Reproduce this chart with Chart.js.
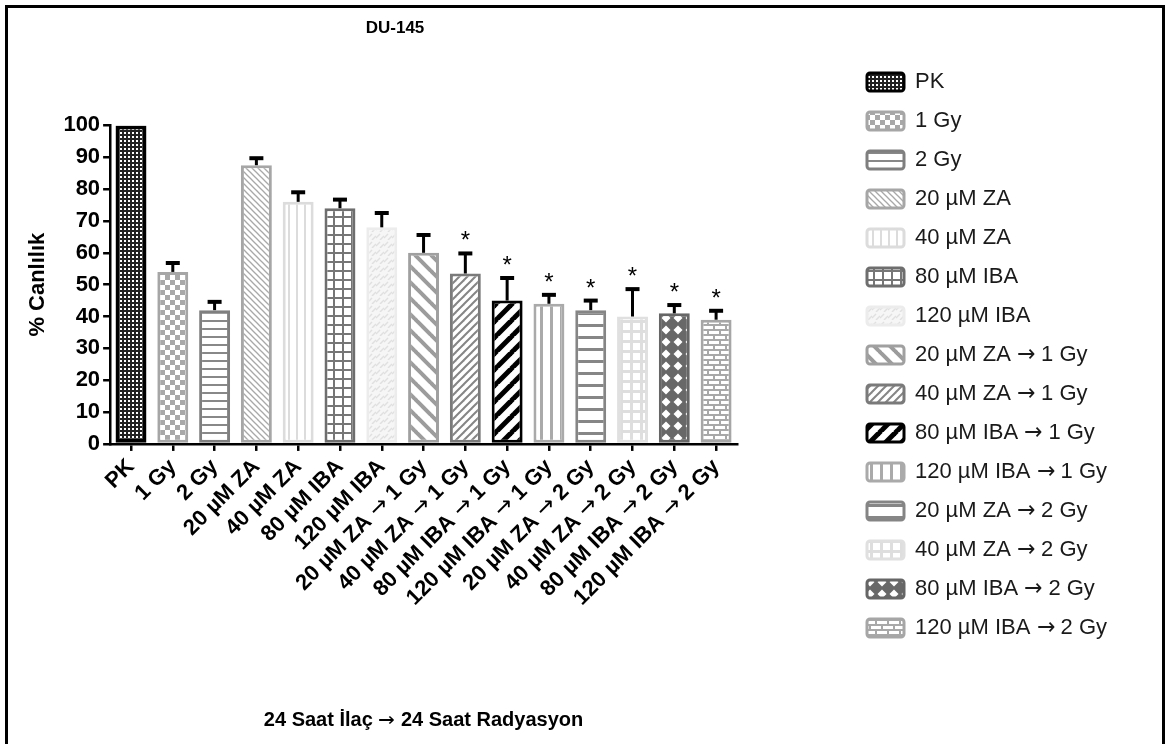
<!DOCTYPE html>
<html>
<head>
<meta charset="utf-8">
<title>DU-145</title>
<script src="https://cdn.jsdelivr.net/npm/chart.js@4.4.1/dist/chart.umd.min.js"></script>
<style>
  @font-face { font-family: 'ArrowSym'; src: local('DejaVu Sans'); unicode-range: U+2192; font-weight: 100 900; }
  html, body { margin: 0; padding: 0; background: #fff; overflow: hidden; }
  #wrap { position: relative; width: 1165px; height: 744px; }
  #frame { position: absolute; left: 5px; top: 5px; right: 0; bottom: -10px; border: 3px solid #000; border-bottom: none; pointer-events: none; }
  #chart { position: absolute; left: 0; top: 0; }
</style>
</head>
<body>
<div id="wrap">
  <canvas id="chart" width="1165" height="744"></canvas>
  <div id="frame"></div>
</div>
<script>
// groups, mean % viability, error (upper bar only) and significance marks
const groups = [
  'PK', '1 Gy', '2 Gy', '20 µM ZA', '40 µM ZA', '80 µM IBA', '120 µM IBA',
  '20 µM ZA → 1 Gy', '40 µM ZA → 1 Gy', '80 µM IBA → 1 Gy', '120 µM IBA → 1 Gy',
  '20 µM ZA → 2 Gy', '40 µM ZA → 2 Gy', '80 µM IBA → 2 Gy', '120 µM IBA → 2 Gy'
];
const viability = [100, 54, 42, 87.5, 76, 74, 68, 60, 53.5, 45, 44, 42, 40, 41, 39];
const errUp = [0, 2.8, 2.6, 2.2, 3, 2.7, 4.5, 5.6, 6.3, 7.1, 2.8, 3, 8.6, 2.6, 2.8];
const significant = [false, false, false, false, false, false, false, false, true, true, true, true, true, true, true];

const yMin = 0;
const yMax = 100;
const yStep = 10;

const titleText = 'DU-145';
const yTitle = '% Canlılık';
const xTitle = '24 Saat İlaç → 24 Saat Radyasyon';

// arrows come from DejaVu (longer, like the original), the rest is Arial
const FONT = 'ArrowSym, Arial, "Liberation Sans", sans-serif';

const canvas = document.getElementById('chart');
const mainCtx = canvas.getContext('2d');

// small tiles used as bar fills
function tile(w, h, paint) {
  const c = document.createElement('canvas');
  c.width = w;
  c.height = h;
  const g = c.getContext('2d');
  paint(g, w, h);
  return mainCtx.createPattern(c, 'repeat');
}

function hatch(g, s, color, width, dir) {
  g.fillStyle = '#fff';
  g.fillRect(0, 0, s, s);
  g.strokeStyle = color;
  g.lineWidth = width;
  [-s, 0, s].forEach(o => {
    g.beginPath();
    if (dir === 'back') {
      g.moveTo(o - 1, -1);
      g.lineTo(o + s + 1, s + 1);
    } else {
      g.moveTo(o - 1, s + 1);
      g.lineTo(o + s + 1, -1);
    }
    g.stroke();
  });
}

const fills = [
  tile(4, 4, g => { g.fillStyle = '#222'; g.fillRect(0, 0, 4, 4); g.fillStyle = '#fff'; g.fillRect(0, 0, 2, 2); }),
  tile(10, 10, g => { g.fillStyle = '#fff'; g.fillRect(0, 0, 10, 10); g.fillStyle = '#a8a8a8'; g.fillRect(0, 0, 5, 5); g.fillRect(5, 5, 5, 5); }),
  tile(8, 8, g => { g.fillStyle = '#fff'; g.fillRect(0, 0, 8, 8); g.fillStyle = '#888'; g.fillRect(0, 0, 8, 2); }),
  tile(6, 6, g => hatch(g, 6, '#a8a8a8', 1.3, 'back')),
  tile(8, 8, g => { g.fillStyle = '#fff'; g.fillRect(0, 0, 8, 8); g.fillStyle = '#dcdcdc'; g.fillRect(0, 0, 2, 8); }),
  tile(9, 9, g => { g.fillStyle = '#fff'; g.fillRect(0, 0, 9, 9); g.fillStyle = '#767676'; g.fillRect(0, 0, 9, 2); g.fillRect(0, 0, 2, 9); }),
  tile(8, 8, g => { g.fillStyle = '#f6f6f6'; g.fillRect(0, 0, 8, 8); g.strokeStyle = '#e0e0e0'; g.lineWidth = 1.5; g.beginPath(); g.moveTo(0, 6); g.lineTo(4, 2); g.moveTo(4, 8); g.lineTo(8, 4); g.stroke(); }),
  tile(16, 16, g => hatch(g, 16, '#9c9c9c', 4, 'back')),
  tile(8, 8, g => hatch(g, 8, '#858585', 2, 'fwd')),
  tile(16, 16, g => hatch(g, 16, '#000', 5, 'fwd')),
  tile(10, 10, g => { g.fillStyle = '#fff'; g.fillRect(0, 0, 10, 10); g.fillStyle = '#aaa'; g.fillRect(0, 0, 3, 10); }),
  tile(12, 12, g => { g.fillStyle = '#fff'; g.fillRect(0, 0, 12, 12); g.fillStyle = '#868686'; g.fillRect(0, 0, 12, 3); }),
  tile(10, 10, g => { g.fillStyle = '#dedede'; g.fillRect(0, 0, 10, 10); g.fillStyle = '#fff'; g.fillRect(3, 3, 7, 7); }),
  tile(12, 12, g => { g.fillStyle = '#686868'; g.fillRect(0, 0, 12, 12); g.fillStyle = '#fff'; g.beginPath(); g.moveTo(6, 1.5); g.lineTo(10.5, 6); g.lineTo(6, 10.5); g.lineTo(1.5, 6); g.closePath(); g.fill(); }),
  tile(12, 10, g => { g.fillStyle = '#a8a8a8'; g.fillRect(0, 0, 12, 10); g.fillStyle = '#fff'; g.fillRect(1, 1, 10, 3); g.fillRect(7, 6, 10, 3); g.fillRect(-5, 6, 10, 3); })
];
const edges = ['#000', '#a6a6a6', '#7f7f7f', '#a6a6a6', '#dcdcdc', '#6e6e6e', '#ececec', '#a0a0a0',
  '#7a7a7a', '#000', '#aaaaaa', '#858585', '#e0e0e0', '#666666', '#a6a6a6'];
const edgeWidths = [4, 3, 3, 3, 3, 3, 3, 3, 3, 3, 3, 3, 3, 3, 3];

// upward error bars with a cap, plus the "*" marks
const errorBars = {
  id: 'errorBars',
  afterDatasetsDraw(chart) {
    const ctx = chart.ctx;
    const y = chart.scales.y;
    const bars = chart.getDatasetMeta(0).data;
    ctx.save();
    ctx.strokeStyle = '#000';
    ctx.fillStyle = '#000';
    bars.forEach((bar, i) => {
      const top = y.getPixelForValue(viability[i] + errUp[i]);
      if (errUp[i] > 0) {
        ctx.lineWidth = 3;
        ctx.beginPath();
        ctx.moveTo(bar.x, bar.y);
        ctx.lineTo(bar.x, top);
        ctx.stroke();
        ctx.lineWidth = 4;
        ctx.beginPath();
        ctx.moveTo(bar.x - 7, top);
        ctx.lineTo(bar.x + 7, top);
        ctx.stroke();
      }
      if (significant[i]) {
        ctx.font = '24px Arial, "Liberation Sans", sans-serif';
        ctx.textAlign = 'center';
        ctx.textBaseline = 'alphabetic';
        ctx.fillText('*', bar.x, top - 5);
      }
    });
    ctx.restore();
  }
};

// legend sits far right of the plot, title over the bars
const placeBlocks = {
  id: 'placeBlocks',
  beforeInit(chart) {
    const legend = chart.legend;
    const fit = legend.fit;
    legend.fit = function () {
      fit.call(this);
      this.width = 428;
    };
  },
  afterLayout(chart) {
    const lg = chart.legend;
    lg.left = 850;
    lg.right = lg.left + 300;
    lg.top = 54;
    lg.bottom = lg.top + 690;
    const t = chart.titleBlock;
    t.left = 300;
    t.right = 490;
  }
};

function draw() {
  new Chart(canvas, {
    type: 'bar',
    data: {
      labels: groups,
      datasets: [{
        data: viability,
        backgroundColor: fills,
        borderColor: edges,
        borderWidth: edgeWidths,
        borderSkipped: false,
        barPercentage: 0.74,
        categoryPercentage: 1
      }]
    },
    options: {
      responsive: false,
      animation: false,
      devicePixelRatio: 1,
      layout: { padding: { left: 20, right: 0, top: 0, bottom: 0 } },
      plugins: {
        title: {
          display: true,
          text: titleText,
          color: '#000',
          font: { family: FONT, size: 17, weight: 'bold' },
          padding: { top: 18, bottom: 87 }
        },
        legend: {
          display: true,
          position: 'right',
          align: 'start',
          labels: {
            boxWidth: 37,
            boxHeight: 18,
            padding: 17,
            color: '#1a1a1a',
            font: { family: FONT, size: 22 },
            useBorderRadius: true,
            borderRadius: 3,
            generateLabels: () => groups.map((g, i) => ({
              text: g,
              fillStyle: fills[i],
              strokeStyle: edges[i],
              lineWidth: 3,
              fontColor: '#1a1a1a',
              borderRadius: 3,
              hidden: false,
              index: i,
              datasetIndex: 0
            }))
          }
        },
        tooltip: { enabled: false }
      },
      scales: {
        x: {
          offset: true,
          grid: { display: true, offset: false, drawOnChartArea: false, drawTicks: true, tickLength: 7, color: '#000', lineWidth: 2.5 },
          border: { display: true, color: '#000', width: 2.5 },
          ticks: {
            autoSkip: false,
            minRotation: 45,
            maxRotation: 45,
            padding: 3,
            color: '#000',
            font: { family: FONT, size: 22, weight: 'bold' }
          },
          title: {
            display: true,
            text: xTitle,
            color: '#000',
            font: { family: FONT, size: 20, weight: 'bold' },
            padding: { top: 94, bottom: 12 }
          }
        },
        y: {
          min: yMin,
          max: yMax,
          grid: { display: true, drawOnChartArea: false, drawTicks: true, tickLength: 7, color: '#000', lineWidth: 2.5 },
          border: { display: true, color: '#000', width: 2.5 },
          ticks: {
            stepSize: yStep,
            padding: 3,
            color: '#000',
            font: { family: FONT, size: 22, weight: 'bold' }
          },
          title: {
            display: true,
            text: yTitle,
            color: '#000',
            font: { family: FONT, size: 22, weight: 'bold' },
            padding: { top: 5, bottom: 9 }
          }
        }
      }
    },
    plugins: [errorBars, placeBlocks]
  });
}

document.fonts.load('22px ArrowSym', '→').catch(() => null).then(draw);
</script>
</body>
</html>
